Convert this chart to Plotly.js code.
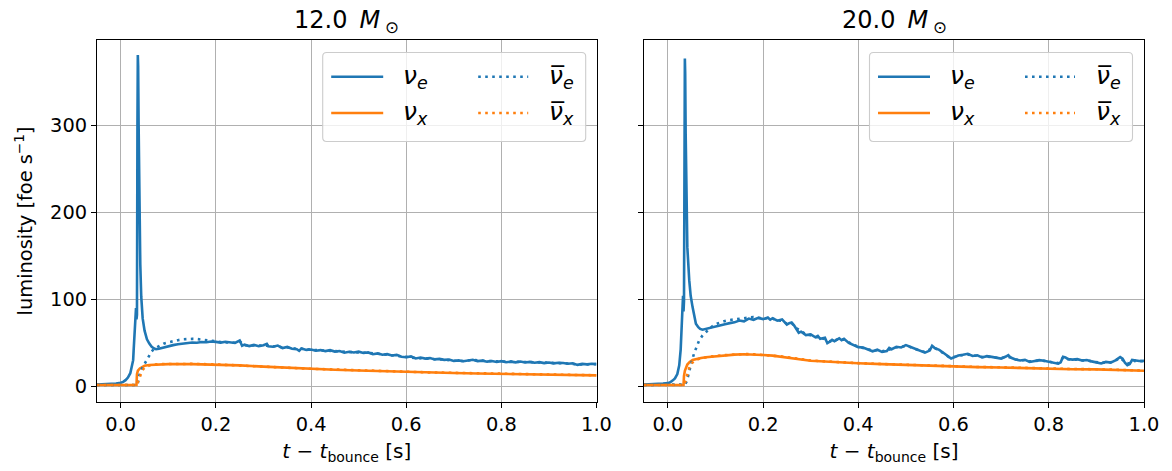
<!DOCTYPE html>
<html>
<head>
<meta charset="utf-8">
<script src="https://cdn.plot.ly/plotly-3.0.1.min.js"></script>
<style>
  html, body { margin: 0; padding: 0; background: #ffffff; }
  #chart { width: 1172px; height: 471px; }
</style>
</head>
<body>
<div id="chart"></div>
<script>
// ---- 12.0 Msun progenitor: luminosities [foe/s] vs time after bounce [s] ----
const t12_nue = [-0.05, -0.04, -0.03, -0.02, -0.01, 0.0, 0.005, 0.01, 0.015, 0.02, 0.023, 0.026, 0.027, 0.028, 0.029, 0.030, 0.031, 0.032, 0.033, 0.034, 0.035, 0.0358, 0.0365, 0.0375, 0.0385, 0.039, 0.040, 0.041, 0.043, 0.046, 0.050, 0.055, 0.060, 0.065, 0.070, 0.074, 0.08, 0.09, 0.10, 0.11, 0.12, 0.13, 0.14, 0.15, 0.16, 0.17, 0.18, 0.19, 0.20, 0.21, 0.22, 0.23, 0.24, 0.25, 0.255, 0.26, 0.27, 0.28, 0.29, 0.30, 0.307, 0.31, 0.32, 0.33, 0.34, 0.35, 0.36, 0.37, 0.375, 0.38, 0.39, 0.40, 0.41, 0.42, 0.43, 0.44, 0.45, 0.46, 0.47, 0.48, 0.49, 0.50, 0.51, 0.52, 0.53, 0.54, 0.55, 0.56, 0.57, 0.58, 0.59, 0.60, 0.61, 0.62, 0.63, 0.64, 0.65, 0.66, 0.67, 0.68, 0.69, 0.70, 0.71, 0.72, 0.73, 0.74, 0.75, 0.76, 0.77, 0.78, 0.79, 0.80, 0.81, 0.82, 0.83, 0.84, 0.85, 0.86, 0.87, 0.88, 0.89, 0.90, 0.91, 0.92, 0.93, 0.94, 0.95, 0.96, 0.97, 0.98, 0.99, 1.00];
const L12_nue = [2.0, 2.1, 2.3, 2.6, 3.1, 4.0, 5.0, 7.0, 10.0, 15.0, 21.0, 30.0, 41.0, 55.0, 68.0, 82.0, 88.0, 90.0, 77.0, 82.0, 300.0, 381.0, 368.0, 300.0, 230.0, 199.0, 168.0, 140.0, 103.0, 78.0, 64.0, 54.0, 49.0, 45.5, 43.5, 42.6, 43.2, 44.8, 46.2, 47.3, 48.4, 49.1, 49.6, 50.3, 50.0, 50.9, 50.6, 51.4, 51.0, 50.2, 51.2, 50.4, 49.8, 52.6, 46.5, 47.8, 46.2, 47.5, 46.0, 47.2, 48.8, 46.1, 45.4, 46.8, 43.9, 45.2, 43.1, 42.6, 40.8, 43.5, 41.8, 42.2, 40.8, 41.6, 40.4, 41.5, 39.9, 40.6, 38.6, 39.7, 38.8, 39.8, 38.2, 38.9, 36.8, 37.8, 36.2, 36.9, 35.4, 36.1, 34.0, 33.4, 34.4, 32.0, 33.0, 31.8, 32.4, 30.9, 31.5, 30.4, 30.8, 29.0, 29.7, 28.7, 29.4, 30.4, 28.9, 29.5, 28.3, 29.1, 28.0, 28.9, 27.6, 28.3, 27.5, 28.5, 27.3, 28.0, 27.0, 27.7, 26.6, 27.3, 26.3, 27.0, 26.7, 25.9, 26.4, 24.6, 25.7, 25.2, 25.9, 25.5];

const t12_nux = [-0.05, 0.0, 0.033, 0.034, 0.036, 0.040, 0.045, 0.050, 0.060, 0.080, 0.10, 0.15, 0.20, 0.25, 0.30, 0.35, 0.40, 0.45, 0.50, 0.55, 0.60, 0.65, 0.70, 0.75, 0.80, 0.85, 0.90, 0.95, 1.00];
const L12_nux = [1.5, 1.5, 1.5, 14.0, 18.0, 20.5, 22.5, 23.5, 24.5, 25.2, 25.5, 25.5, 25.0, 24.0, 22.6, 21.2, 20.0, 19.0, 18.1, 17.2, 16.4, 15.8, 15.3, 14.7, 14.1, 13.6, 13.2, 12.8, 12.5];

const t12_anue = [-0.05, 0.0, 0.034, 0.036, 0.038, 0.040, 0.045, 0.050, 0.054, 0.060, 0.065, 0.070, 0.080, 0.090, 0.10, 0.11, 0.12, 0.13, 0.14, 0.15, 0.16, 0.17, 0.18, 0.19, 0.20, 0.21, 0.22, 0.23, 0.24, 0.25, 0.26, 0.27, 0.28, 0.29, 0.30, 0.31, 0.32, 0.33, 0.34, 0.35, 0.36, 0.37, 0.38, 0.39, 0.40, 0.42, 0.44, 0.46, 0.48, 0.50, 0.52, 0.54, 0.56, 0.58, 0.60, 0.62, 0.64, 0.66, 0.68, 0.70, 0.72, 0.74, 0.76, 0.78, 0.80, 0.82, 0.84, 0.86, 0.88, 0.90, 0.92, 0.94, 0.96, 0.98, 1.00];
const L12_anue = [1.5, 1.5, 1.5, 4.0, 9.0, 15.0, 21.0, 26.0, 30.0, 35.5, 40.0, 43.0, 46.5, 49.0, 50.5, 52.0, 53.0, 54.0, 54.5, 54.5, 54.3, 53.8, 53.0, 52.5, 51.8, 50.8, 50.6, 50.9, 50.0, 51.8, 47.2, 46.8, 47.0, 46.6, 46.8, 46.6, 45.8, 46.2, 44.4, 44.8, 43.6, 43.0, 43.1, 42.3, 42.0, 41.2, 41.0, 40.2, 39.4, 39.2, 38.4, 37.4, 36.4, 35.6, 33.8, 32.4, 32.0, 31.2, 30.6, 29.4, 29.0, 30.2, 29.3, 28.9, 28.6, 28.1, 28.2, 27.8, 27.5, 27.2, 26.8, 26.2, 25.0, 25.4, 25.4];

const t12_anux = [-0.05, 0.0, 0.034, 0.036, 0.040, 0.045, 0.050, 0.060, 0.080, 0.10, 0.15, 0.20, 0.25, 0.30, 0.35, 0.40, 0.45, 0.50, 0.55, 0.60, 0.65, 0.70, 0.75, 0.80, 0.85, 0.90, 0.95, 1.00];
const L12_anux = [1.5, 1.5, 1.5, 5.0, 12.0, 18.0, 21.5, 24.0, 25.5, 25.8, 25.7, 25.1, 24.1, 22.7, 21.3, 20.1, 19.1, 18.2, 17.3, 16.5, 15.9, 15.4, 14.8, 14.2, 13.7, 13.3, 12.9, 12.6];

// ---- 20.0 Msun progenitor ----
const t20_nue = [-0.05, -0.04, -0.03, -0.02, -0.01, 0.0, 0.005, 0.01, 0.015, 0.02, 0.024, 0.027, 0.029, 0.030, 0.031, 0.032, 0.033, 0.034, 0.035, 0.0358, 0.0365, 0.0375, 0.039, 0.041, 0.045, 0.048, 0.052, 0.056, 0.059, 0.064, 0.068, 0.073, 0.08, 0.09, 0.10, 0.11, 0.12, 0.13, 0.14, 0.15, 0.16, 0.17, 0.18, 0.19, 0.20, 0.21, 0.215, 0.22, 0.23, 0.24, 0.245, 0.25, 0.255, 0.26, 0.265, 0.27, 0.275, 0.28, 0.29, 0.30, 0.31, 0.315, 0.32, 0.33, 0.335, 0.34, 0.345, 0.35, 0.36, 0.365, 0.37, 0.38, 0.39, 0.40, 0.41, 0.42, 0.43, 0.44, 0.45, 0.46, 0.465, 0.47, 0.48, 0.49, 0.50, 0.51, 0.52, 0.53, 0.54, 0.55, 0.555, 0.56, 0.57, 0.58, 0.59, 0.595, 0.60, 0.61, 0.62, 0.63, 0.64, 0.65, 0.66, 0.67, 0.68, 0.69, 0.70, 0.71, 0.715, 0.72, 0.73, 0.74, 0.75, 0.76, 0.77, 0.78, 0.79, 0.80, 0.81, 0.82, 0.825, 0.83, 0.835, 0.84, 0.85, 0.86, 0.87, 0.88, 0.89, 0.90, 0.91, 0.92, 0.93, 0.94, 0.95, 0.955, 0.96, 0.965, 0.97, 0.975, 0.98, 0.99, 1.00];
const L20_nue = [2.0, 2.1, 2.3, 2.6, 3.0, 3.6, 4.5, 6.5, 9.0, 14.0, 24.0, 42.0, 60.0, 78.0, 92.0, 104.0, 86.0, 98.0, 240.0, 377.0, 360.0, 290.0, 210.0, 160.0, 122.0, 104.0, 91.0, 80.0, 72.0, 68.0, 66.0, 65.0, 65.8, 67.2, 68.5, 69.8, 71.2, 72.6, 73.5, 75.6, 74.6, 77.8, 76.4, 78.6, 77.2, 79.0, 76.5, 78.2, 75.4, 76.9, 73.5, 71.0, 72.6, 73.4, 70.2, 66.0, 61.5, 62.8, 58.9, 59.6, 56.3, 57.8, 54.5, 55.8, 49.5, 51.2, 53.4, 51.8, 55.2, 53.0, 54.6, 49.8, 47.2, 45.0, 44.6, 42.8, 40.2, 42.0, 39.6, 40.4, 44.0, 42.6, 45.4, 44.6, 47.3, 45.2, 43.0, 40.2, 38.6, 41.0, 46.5, 44.2, 41.8, 38.0, 33.6, 31.9, 33.0, 35.4, 36.2, 37.4, 34.8, 35.6, 33.2, 34.6, 33.8, 32.6, 31.8, 34.2, 35.8, 33.0, 30.8, 29.6, 30.4, 28.0, 29.2, 30.0, 29.4, 28.2, 27.0, 26.0, 27.5, 34.0, 33.2, 31.4, 30.6, 31.2, 29.6, 30.2, 28.6, 27.4, 26.2, 28.0, 27.2, 29.8, 33.6, 31.8, 27.0, 24.2, 25.6, 30.2, 29.8, 29.0, 29.2];

const t20_nux = [-0.05, 0.0, 0.033, 0.034, 0.036, 0.041, 0.046, 0.052, 0.06, 0.07, 0.08, 0.10, 0.12, 0.14, 0.16, 0.18, 0.20, 0.22, 0.24, 0.26, 0.28, 0.30, 0.33, 0.36, 0.40, 0.45, 0.50, 0.55, 0.60, 0.65, 0.70, 0.75, 0.80, 0.85, 0.90, 0.95, 1.00];
const L20_nux = [1.5, 1.5, 1.5, 12.0, 18.0, 25.0, 28.0, 30.2, 31.6, 32.6, 33.4, 34.6, 35.6, 36.4, 36.8, 36.6, 36.0, 35.2, 34.0, 32.6, 30.8, 29.4, 28.4, 27.4, 26.4, 25.4, 24.4, 23.4, 22.2, 22.0, 21.6, 20.8, 19.8, 19.6, 19.4, 18.6, 17.8];

const t20_anue = [-0.05, 0.0, 0.034, 0.036, 0.040, 0.045, 0.050, 0.055, 0.060, 0.066, 0.073, 0.08, 0.09, 0.10, 0.11, 0.12, 0.13, 0.14, 0.15, 0.16, 0.17, 0.18, 0.19, 0.20, 0.21, 0.22, 0.23, 0.24, 0.25, 0.26, 0.27, 0.28, 0.29, 0.30, 0.31, 0.32, 0.33, 0.34, 0.35, 0.36, 0.37, 0.38, 0.39, 0.40, 0.41, 0.42, 0.43, 0.44, 0.45, 0.46, 0.47, 0.48, 0.49, 0.50, 0.51, 0.52, 0.53, 0.54, 0.55, 0.56, 0.57, 0.58, 0.59, 0.60, 0.61, 0.62, 0.63, 0.64, 0.65, 0.66, 0.67, 0.68, 0.69, 0.70, 0.71, 0.72, 0.73, 0.74, 0.75, 0.76, 0.77, 0.78, 0.79, 0.80, 0.81, 0.82, 0.83, 0.84, 0.85, 0.86, 0.87, 0.88, 0.89, 0.90, 0.91, 0.92, 0.93, 0.94, 0.95, 0.96, 0.97, 0.98, 0.99, 1.00];
const L20_anue = [1.5, 1.5, 1.5, 2.0, 6.0, 18.0, 28.0, 37.5, 45.5, 53.0, 58.5, 62.5, 67.5, 71.5, 73.6, 75.0, 76.2, 77.0, 77.8, 78.6, 79.4, 79.6, 78.8, 78.0, 78.2, 77.8, 75.8, 75.2, 72.0, 72.6, 66.8, 63.6, 59.8, 58.6, 56.8, 55.2, 54.4, 51.6, 52.6, 54.6, 53.6, 50.2, 47.6, 45.6, 44.0, 42.4, 41.0, 41.4, 40.2, 41.2, 43.0, 44.8, 45.2, 46.6, 45.0, 42.6, 40.8, 39.2, 42.4, 44.0, 41.2, 37.4, 33.8, 33.6, 35.0, 36.0, 36.6, 35.0, 35.2, 33.6, 34.2, 33.4, 32.8, 32.2, 34.0, 33.2, 31.0, 29.8, 30.0, 28.6, 29.0, 29.6, 29.2, 28.4, 27.2, 26.6, 33.0, 31.2, 30.4, 30.8, 29.8, 29.8, 28.8, 27.8, 26.8, 27.6, 27.6, 29.4, 32.8, 27.6, 25.8, 29.2, 28.8, 28.8];

const t20_anux = [-0.05, 0.0, 0.034, 0.036, 0.040, 0.045, 0.050, 0.06, 0.07, 0.08, 0.10, 0.12, 0.14, 0.16, 0.18, 0.20, 0.22, 0.24, 0.26, 0.28, 0.30, 0.33, 0.36, 0.40, 0.45, 0.50, 0.55, 0.60, 0.65, 0.70, 0.75, 0.80, 0.85, 0.90, 0.95, 1.00];
const L20_anux = [1.5, 1.5, 1.5, 4.0, 12.0, 21.0, 26.5, 30.5, 32.4, 33.4, 34.8, 35.8, 36.6, 37.0, 36.8, 36.2, 35.4, 34.2, 32.8, 31.0, 29.6, 28.6, 27.6, 26.6, 25.6, 24.6, 23.6, 22.4, 22.2, 21.8, 21.0, 20.0, 19.8, 19.6, 18.8, 18.0];

// ---- labels ----
const panelTitles = ['12.0\u2002<i>M</i>\u2009<sub>\u2299</sub>', '20.0\u2002<i>M</i>\u2009<sub>\u2299</sub>'];
const seriesLabels = {
  nue:  '<i>\u03bd</i><sub><i>e</i></sub>',
  nux:  '<i>\u03bd</i><sub><i>x</i></sub>',
  anue: '<i>\u03bd\u0305</i><sub><i>e</i></sub>',
  anux: '<i>\u03bd\u0305</i><sub><i>x</i></sub>'
};
const xTickVals = [0.0, 0.2, 0.4, 0.6, 0.8, 1.0];
const yTickVals = [0, 100, 200, 300];

// ---- styling ----
const BLUE = '#1f77b4', ORANGE = '#ff7f0e';
const FONT = 'DejaVu Sans, Verdana, sans-serif';
const LW = 2.6;
const DOT = '2.6px,4.4px';

const W = 1172, H = 471;
const M = {l: 97, r: 28, t: 40, b: 69};
const PW = W - M.l - M.r, PH = H - M.t - M.b;
const px = x => (x - M.l) / PW;          // pixel -> paper x
const py = y => (H - M.b - y) / PH;      // pixel -> paper y

const dom1 = [0, px(596.5)];
const dom2 = [px(644), 1];

function line(x, y, color, dash, xa, ya) {
  return {x: x, y: y, type: 'scatter', mode: 'lines', xaxis: xa, yaxis: ya,
          line: {color: color, width: LW, dash: dash}, showlegend: false, hoverinfo: 'skip'};
}

const data = [
  line(t12_nue,  L12_nue,  BLUE,   'solid', 'x',  'y'),
  line(t12_nux,  L12_nux,  ORANGE, 'solid', 'x',  'y'),
  line(t12_anue, L12_anue, BLUE,   DOT,     'x',  'y'),
  line(t12_anux, L12_anux, ORANGE, DOT,     'x',  'y'),
  line(t20_nue,  L20_nue,  BLUE,   'solid', 'x2', 'y2'),
  line(t20_nux,  L20_nux,  ORANGE, 'solid', 'x2', 'y2'),
  line(t20_anue, L20_anue, BLUE,   DOT,     'x2', 'y2'),
  line(t20_anux, L20_anux, ORANGE, DOT,     'x2', 'y2')
];

const tickFont = {family: FONT, size: 19.4, color: '#000'};
function xAxis(domain, anchor) {
  return {
    domain: domain, anchor: anchor, range: [-0.05, 1.0],
    tickvals: xTickVals, tickformat: '.1f', ticks: 'outside', ticklen: 5, tickwidth: 1, tickcolor: '#000',
    showline: true, linecolor: '#000', linewidth: 1, mirror: true,
    showgrid: true, gridcolor: '#b0b0b0', gridwidth: 1, zeroline: false,
    tickfont: tickFont,
    title: {text: '<i>t</i> \u2212 <i>t</i><sub>bounce</sub> [s]', font: {family: FONT, size: 20, color: '#000'}, standoff: 8}
  };
}
function yAxis(domain, anchor, labels) {
  const a = {
    domain: [0, 1], anchor: anchor, range: [-18.1, 398.2],
    tickvals: yTickVals, ticks: 'outside', ticklen: 5, tickwidth: 1, tickcolor: '#000',
    showline: true, linecolor: '#000', linewidth: 1, mirror: true,
    showgrid: true, gridcolor: '#b0b0b0', gridwidth: 1, zeroline: false,
    tickfont: tickFont, showticklabels: labels
  };
  if (labels) {
    a.title = {text: 'luminosity [foe s<sup>\u22121</sup>]', font: {family: FONT, size: 19.4, color: '#000'}, standoff: 12};
  }
  return a;
}

// legend drawn inside each panel, two columns: (nu_e, nu_x) | (anti nu_e, anti nu_x)
const shapes = [];
const annotations = [];
function roundRect(x0, y0, x1, y1, r) {
  const X = v => px(v).toFixed(5), Y = v => py(v).toFixed(5);
  return 'M' + X(x0 + r) + ',' + Y(y0) +
    ' L' + X(x1 - r) + ',' + Y(y0) + ' Q' + X(x1) + ',' + Y(y0) + ' ' + X(x1) + ',' + Y(y0 + r) +
    ' L' + X(x1) + ',' + Y(y1 - r) + ' Q' + X(x1) + ',' + Y(y1) + ' ' + X(x1 - r) + ',' + Y(y1) +
    ' L' + X(x0 + r) + ',' + Y(y1) + ' Q' + X(x0) + ',' + Y(y1) + ' ' + X(x0) + ',' + Y(y1 - r) +
    ' L' + X(x0) + ',' + Y(y0 + r) + ' Q' + X(x0) + ',' + Y(y0) + ' ' + X(x0 + r) + ',' + Y(y0) + ' Z';
}
function addLegend(left) {
  const top = 52.5, bottom = 141.5, right = left + 263;
  shapes.push({type: 'path', xref: 'paper', yref: 'paper', path: roundRect(left, top, right, bottom, 4),
               fillcolor: 'rgba(255,255,255,0.8)', line: {color: '#cccccc', width: 1.1}, layer: 'above'});
  const rows = [76.7, 113];
  const items = [
    {col: 0, row: 0, color: BLUE,   dash: 'solid', label: seriesLabels.nue},
    {col: 0, row: 1, color: ORANGE, dash: 'solid', label: seriesLabels.nux},
    {col: 1, row: 0, color: BLUE,   dash: DOT,     label: seriesLabels.anue},
    {col: 1, row: 1, color: ORANGE, dash: DOT,     label: seriesLabels.anux}
  ];
  items.forEach(it => {
    const hx0 = left + (it.col === 0 ? 8.5 : 155.5);
    const hx1 = hx0 + (it.col === 0 ? 52 : 50);
    const tx = left + (it.col === 0 ? 78.5 : 224.5);
    const yy = rows[it.row];
    shapes.push({type: 'line', xref: 'paper', yref: 'paper', x0: px(hx0), x1: px(hx1), y0: py(yy), y1: py(yy),
                 line: {color: it.color, width: LW, dash: it.dash}, layer: 'above'});
    annotations.push({xref: 'paper', yref: 'paper', x: px(tx), y: py(yy), xanchor: 'left', yanchor: 'middle',
                      text: it.label, showarrow: false, font: {family: FONT, size: 25, color: '#000'}});
  });
}
addLegend(322.7);
addLegend(869.5);

// panel titles
[[dom1, panelTitles[0]], [dom2, panelTitles[1]]].forEach(([d, txt]) => {
  annotations.push({xref: 'paper', yref: 'paper', x: (d[0] + d[1]) / 2, y: 1, xanchor: 'center', yanchor: 'bottom',
                    yshift: 1, text: txt, showarrow: false, font: {family: FONT, size: 24, color: '#000'}});
});

const layout = {
  width: W, height: H, margin: M,
  paper_bgcolor: '#ffffff', plot_bgcolor: '#ffffff',
  showlegend: false,
  font: {family: FONT, color: '#000'},
  xaxis: xAxis(dom1, 'y'),
  yaxis: yAxis(dom1, 'x', true),
  xaxis2: xAxis(dom2, 'y2'),
  yaxis2: Object.assign(yAxis(dom2, 'x2', false), {matches: 'y'}),
  shapes: shapes,
  annotations: annotations
};

Plotly.newPlot('chart', data, layout, {staticPlot: true, displayModeBar: false});
</script>
</body>
</html>
